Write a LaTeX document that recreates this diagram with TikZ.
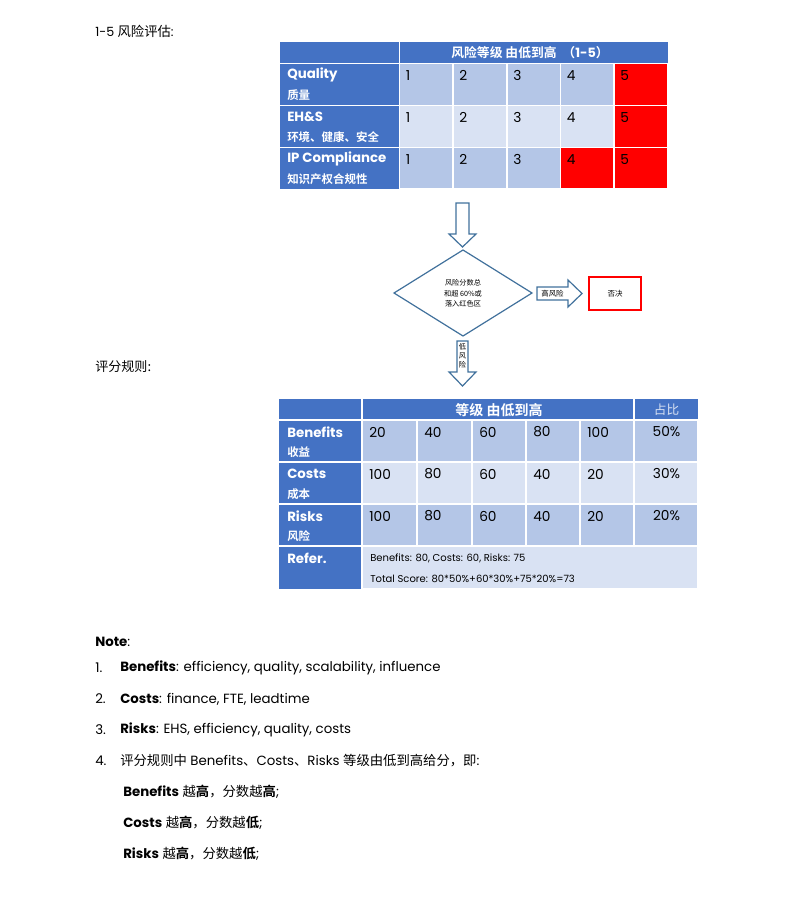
\documentclass[tikz,border=0pt]{standalone}
\usepackage{fontspec}
\setmainfont{Poppins}
\newfontfamily\cjk{Noto Sans CJK SC}[BoldFont={Noto Sans CJK SC Bold}]
\definecolor{hdr}{HTML}{4472C4}
\definecolor{lb}{HTML}{B4C6E7}
\definecolor{llb}{HTML}{D9E2F3}
\definecolor{rd}{HTML}{FF0000}
\definecolor{arr}{HTML}{41719C}
\tikzset{
  cellbox/.style={draw=white, line width=1.2pt},
  num/.style={anchor=west, inner sep=0pt, font=\fontsize{10.3}{12}\selectfont},
  lab/.style={anchor=west, inner sep=0pt, text=white, font=\bfseries\fontsize{10}{12}\selectfont},
  labcn/.style={anchor=west, inner sep=0pt, text=white, font=\cjk\bfseries\fontsize{8.6}{10}\selectfont},
  body/.style={anchor=west, inner sep=0pt, font=\fontsize{10}{12}\selectfont},
  blockarr/.style={draw=arr, fill=white, line width=0.9pt, line join=miter},
  small/.style={inner sep=0pt, font=\cjk\fontsize{5.2}{7.5}\selectfont, align=center},
}
\newcommand\cn[1]{{\cjk\fontsize{10}{12}\selectfont #1}}
\begin{document}
\begin{tikzpicture}[x=0.75pt,y=-0.75pt]
\useasboundingbox (0,0) rectangle (793,903);
% ---------- title 1
\node[body, font=\fontsize{9.5}{11}\selectfont] (t1) at (95,31) {1-5 \cn{风险评估}:};
% ---------- table 1
\fill[hdr] (280,42) rectangle (668,189);
\draw[cellbox] (399.5,42) -- (399.5,189);
\foreach \y in {63.5,105.5,147.5} \draw[cellbox] (280,\y) -- (668,\y);
\foreach \r/\ya/\yb/\ca/\cb/\cc/\cd/\ce in {1/63.5/105.5/lb/lb/lb/lb/rd, 2/105.5/147.5/llb/llb/llb/llb/rd, 3/147.5/189/lb/lb/lb/rd/rd}{
  \foreach \xa/\xb/\c [count=\k] in {399.5/453/\ca, 453/507/\cb, 507/560.5/\cc, 560.5/614/\cd, 614/668/\ce}{
    \filldraw[fill=\c, cellbox] (\xa,\ya) rectangle (\xb,\yb);
    \node[num] (a\r\k) at (\xa+6,\ya+12) {\k};
  }
}
\node[inner sep=0pt, text=white, font=\cjk\bfseries\fontsize{9.6}{11}\selectfont] (h1) at (530,53) {风险等级\ 由低到高\ \ （\textrm{1-5}）};
\node[lab] (q1) at (287,75) {Quality};
\node[labcn] (q2) at (287,95.5) {质量};
\node[lab] (e1) at (287,117) {EH\&S};
\node[labcn] (e2) at (287,137.5) {环境、健康、安全};
\node[lab] (p1) at (287,159) {IP Compliance};
\node[labcn] (p2) at (287,179.5) {知识产权合规性};
% ---------- flow
\coordinate (ar1) at (462.5,203);
\draw[blockarr] (456,203) -- (469,203) -- (469,234) -- (476,234) -- (462.5,247) -- (449,234) -- (456,234) -- cycle;
\coordinate (dn) at (463,250);
\draw[blockarr] (394,293) -- (463,250) -- (532,293) -- (463,336) -- cycle;
\node[small, font=\cjk\fontsize{5.4}{8}\selectfont] (dtext) at (463,293.5) {风险分数总\\和超 60\%或\\落入红色区};
\draw[blockarr] (537,287) -- (568,287) -- (568,280) -- (582,293.5) -- (568,307) -- (568,300) -- (537,300) -- cycle;
\node[small, font=\cjk\fontsize{5.6}{7}\selectfont] (hi) at (552.5,293.5) {高风险};
\node[draw=rd, line width=1.1pt, minimum width=39pt, minimum height=24.5pt, inner sep=0pt, font=\cjk\fontsize{5.6}{7}\selectfont] (veto) at (615,293.5) {否决};
\draw[blockarr] (457,341) -- (468,341) -- (468,372) -- (476,372) -- (462.5,386) -- (449,372) -- (457,372) -- cycle;
\node[small, font=\cjk\fontsize{5.4}{6.8}\selectfont] (lo) at (462.5,356) {低\\风\\险};
% ---------- title 2
\node[body, font=\cjk\fontsize{9.8}{11}\selectfont] (t2) at (95,367) {评分规则:};
% ---------- table 2
\fill[hdr] (279,399) rectangle (698,589);
\draw[cellbox] (362,399) -- (362,589);
\draw[cellbox] (634,399) -- (634,546);
\foreach \y in {420,462,504,546} \draw[cellbox] (279,\y) -- (698,\y);
\foreach \r/\ya/\yb/\c/\va/\vb/\vc/\vd/\ve/\vf in {1/420/462/lb/20/40/60/80/100/50\%, 2/462/504/llb/100/80/60/40/20/30\%, 3/504/546/lb/100/80/60/40/20/20\%}{
  \foreach \xa/\xb/\v [count=\k] in {362/417/\va, 417/472/\vb, 472/526/\vc, 526/580/\vd, 580/634/\ve}{
    \filldraw[fill=\c, cellbox] (\xa,\ya) rectangle (\xb,\yb);
    \node[num] (b\r\k) at (\xa+7,\ya+12) {\v};
  }
  \filldraw[fill=\c, cellbox] (634,\ya) rectangle (698,\yb);
  \node[num, anchor=center] (b\r6) at (666.5,\ya+12) {\vf};
}
\filldraw[fill=llb, cellbox] (362,546) rectangle (698,589);
\node[inner sep=0pt, text=white, font=\cjk\bfseries\fontsize{10.5}{12}\selectfont] (h2) at (499,410) {等级\ 由低到高};
\node[inner sep=0pt, text=llb, font=\cjk\fontsize{9.5}{11}\selectfont] (h3) at (666.5,410) {占比};
\node[lab] (bn1) at (287,432) {Benefits};
\node[labcn] (bn2) at (287,452.5) {收益};
\node[lab] (cs1) at (287,474) {Costs};
\node[labcn] (cs2) at (287,494.5) {成本};
\node[lab] (rk1) at (287,516) {Risks};
\node[labcn] (rk2) at (287,536.5) {风险};
\node[lab] (rf1) at (287,558) {Refer.};
\node[body, font=\fontsize{7.5}{9}\selectfont] (rf2) at (370,558) {Benefits: 80, Costs: 60, Risks: 75};
\node[body, font=\fontsize{7.5}{9}\selectfont] (rf3) at (370,579) {Total Score: 80*50\%+60*30\%+75*20\%=73};
% ---------- notes
\node[body] (note) at (95,642) {\textbf{Note}:};
\node[body] (n1) at (95,668) {1.};
\node[body] (l1) at (120,668) {\textbf{Benefits}: efficiency, quality, scalability, influence};
\node[body] (n2) at (95,699) {2.};
\node[body] (l2) at (120,699) {\textbf{Costs}: finance, FTE, leadtime};
\node[body] (n3) at (95,730) {3.};
\node[body] (l3) at (120,730) {\textbf{Risks}: EHS, efficiency, quality, costs};
\node[body] (n4) at (95,761) {4.};
\node[body] (l4) at (120,761) {\cn{评分规则中} Benefits\cn{、}Costs\cn{、}Risks \cn{等级由低到高给分，即}:};
\node[body] (s1) at (123,792) {\textbf{Benefits} \cn{越\textbf{高}，分数越\textbf{高}};};
\node[body] (s2) at (123,823) {\textbf{Costs} \cn{越\textbf{高}，分数越\textbf{低}};};
\node[body] (s3) at (123,854) {\textbf{Risks} \cn{越\textbf{高}，分数越\textbf{低}};};
\end{tikzpicture}
\end{document}
